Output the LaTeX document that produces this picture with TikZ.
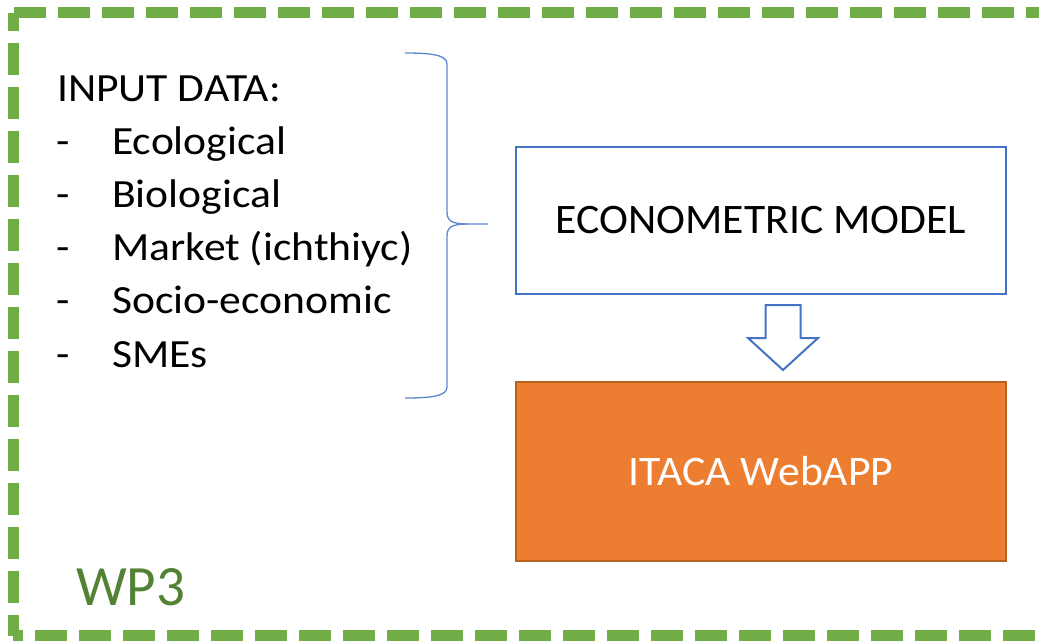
\documentclass[tikz,border=0pt]{standalone}
\usepackage{fontspec}
\setmainfont{Carlito}
\newfontfamily\listfont[FakeStretch=1.09]{Carlito}
\newfontfamily\boxfont[FakeStretch=1.04]{Carlito}
\usetikzlibrary{calc}
\definecolor{wpgreen}{HTML}{70AD47}
\definecolor{wpdark}{HTML}{548235}
\definecolor{blueline}{HTML}{4472C4}
\definecolor{bracecol}{HTML}{5B87D0}
\definecolor{orangefill}{HTML}{ED7D31}
\definecolor{orangeline}{HTML}{B8621F}
\tikzset{
  border/.style={draw=wpgreen, line width=11pt, dash pattern=on 32pt off 12pt},
  listtext/.style={anchor=base west, inner sep=0pt, font=\listfont\fontsize{40}{48}\selectfont},
  boxtext/.style={font=\boxfont\fontsize{42}{50}\selectfont, inner sep=0pt},
}
\begin{document}
\begin{tikzpicture}[x=1pt,y=-1pt]
\useasboundingbox (0,0) rectangle (1039,641);
\begin{scope}
\clip (0,0) rectangle (1039,641);
\coordinate (TL) at (13,12.5);
\coordinate (TR) at (1045,12.5);
\coordinate (BL) at (13,635.5);
\coordinate (BR) at (1045,635.5);
\draw[border, dash phase=43pt] (TL) -- (TR);
\draw[border, dash phase=13.5pt] (TL) -- (BL);
\draw[border, dash phase=22pt] (BL) -- (BR);
\draw[border] (TR) -- (BR);
\end{scope}

% left list
\node[listtext] (inp) at (57,101) {INPUT DATA:};
\foreach \i/\t in {1/Ecological,2/Biological,3/Market (ichthiyc),4/Socio-economic,5/SMEs}{
  \node[listtext] (d\i) at (56.5,{101+53.2*\i}) {-};
  \node[listtext] (t\i) at (112,{101+53.2*\i}) {\t};
}

% brace
\coordinate (btop) at (405,53);
\coordinate (bbot) at (405,398);
\coordinate (btip) at (488,224);
\draw[bracecol, line width=1.3pt]
  (btop) .. controls (432,53) and (447,55) .. (447,64)
  -- (447,212) .. controls (447,221) and (452,224) .. (468,224)
  -- (btip);
\draw[bracecol, line width=1.3pt]
  (468,224) .. controls (452,224) and (447,227) .. (447,236)
  -- (447,387) .. controls (447,396) and (432,398) .. (bbot);

% boxes
\node[draw=blueline, line width=2pt, fill=white, minimum width=490pt, minimum height=147pt, inner sep=0pt] (econ) at (761,220.5) {};
\node[boxtext] at (econ.center) {ECONOMETRIC MODEL};
\node[draw=orangeline, line width=2pt, fill=orangefill, minimum width=490pt, minimum height=179pt, inner sep=0pt] (app) at (761,471.5) {};
\node[boxtext, text=white] at (app.center) {ITACA WebAPP};

% block arrow
\coordinate (ac) at ($(econ.south)+(22,0)$);
\draw[blueline, line width=2pt, fill=white, line join=miter]
  ($(ac)+(-17.5,10)$) -- ($(ac)+(17.5,10)$) -- ($(ac)+(17.5,43)$) -- ($(ac)+(35,43)$)
  -- ($(ac)+(0,75)$) -- ($(ac)+(-35,43)$) -- ($(ac)+(-17.5,43)$) -- cycle;

% WP3 label
\node[anchor=base west, inner sep=0pt, text=wpdark, font=\fontsize{57}{64}\selectfont] (wp) at (76,605) {WP3};
\end{tikzpicture}
\end{document}
